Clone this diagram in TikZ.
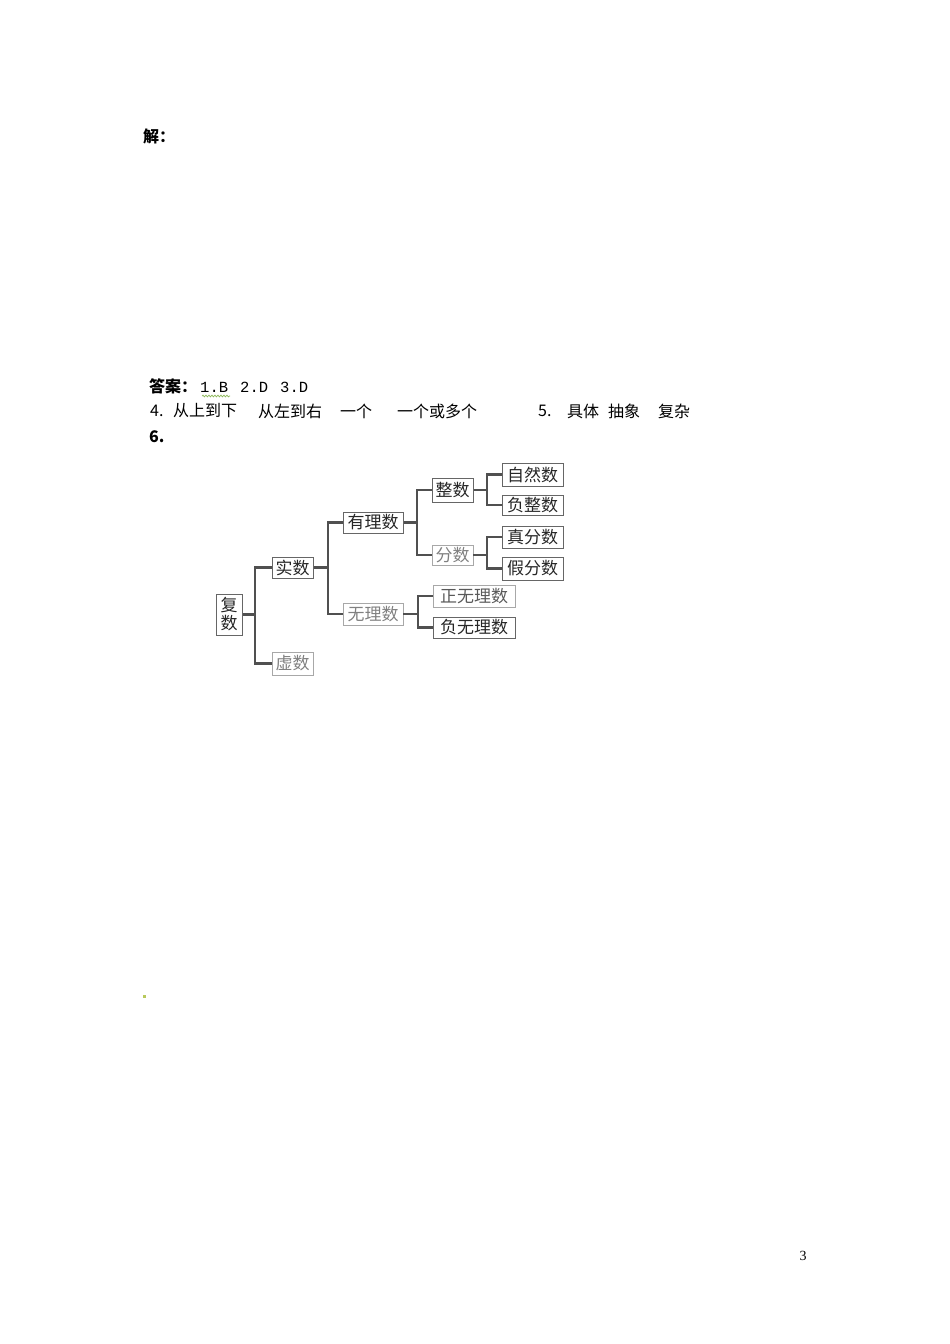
\documentclass[tikz,border=0pt]{standalone}
\usepackage{fontspec}
\setmainfont{Liberation Serif}
\newfontfamily\cjk{Noto Sans CJK SC}
\newfontfamily\monof{Liberation Mono}
\usetikzlibrary{decorations.pathmorphing}
\definecolor{dk}{HTML}{666666}
\definecolor{lt}{HTML}{A8A8A8}
\definecolor{ln}{HTML}{505050}
\definecolor{wavy}{HTML}{8DB85A}
\definecolor{dotc}{HTML}{B8C95C}
\begin{document}
\begin{tikzpicture}[x=1pt,y=-1pt,
  txt/.style={anchor=west,inner sep=0pt,font=\cjk\fontsize{16}{16}\selectfont},
  mtxt/.style={anchor=west,inner sep=0pt,font=\monof\fontsize{15.5}{15.5}\selectfont},
  btxt/.style={anchor=west,inner sep=0pt,font=\cjk\bfseries\fontsize{16}{16}\selectfont},
  boxd/.style={draw=dk,line width=1pt,inner sep=0pt,text=black!85,font=\cjk\fontsize{17}{17}\selectfont},
  boxl/.style={draw=lt,line width=0.9pt,inner sep=0pt,text=black!50,font=\cjk\fontsize{17}{17}\selectfont},
  conn/.style={draw=ln,line width=2.2pt}]
\path[use as bounding box] (0,0) rectangle (950,1344);

% header text
\node[btxt] (jie) at (143,136) {解：};
\node[btxt] (daan) at (149,386) {答案：};
\node[mtxt] (a1) at (200,387) {1.B};
\node[mtxt] (a2) at (240,387) {2.D};
\node[mtxt] (a3) at (280,387) {3.D};
\draw[wavy,line width=0.7pt,decorate,decoration={snake,amplitude=0.9pt,segment length=3pt}] (202,396) -- (230,396);
\node[txt] (n4) at (150,411) {4.};
\node[txt] (s1) at (173,411) {从上到下};
\node[txt] (s2) at (258,411) {从左到右};
\node[txt] (s3) at (340,411) {一个};
\node[txt] (s4) at (397,411) {一个或多个};
\node[txt] (n5) at (538,411) {5.};
\node[txt] (t1) at (567,411) {具体};
\node[txt] (t2) at (608,411) {抽象};
\node[txt] (t3) at (658,411) {复杂};
\node[btxt] (n6) at (149,437) {6.};

% tree
\node[boxd,minimum width=26pt,minimum height=41pt,align=center,font=\cjk\fontsize{17}{18}\selectfont] (fushu) at (229,614.5) {复\\数};
\node[boxd,minimum width=41pt,minimum height=21pt] (shishu) at (292.5,567.5) {实数};
\node[boxl,minimum width=41pt,minimum height=23pt] (xushu) at (292.5,663.5) {虚数};
\node[boxd,minimum width=60pt,minimum height=21pt] (youli) at (373,522.5) {有理数};
\node[boxl,minimum width=60pt,minimum height=22pt] (wuli) at (373,614) {无理数};
\node[boxd,minimum width=41pt,minimum height=24pt] (zheng) at (452.5,490) {整数};
\node[boxl,minimum width=41pt,minimum height=20pt] (fen) at (452.5,555) {分数};
\node[boxd,minimum width=61pt,minimum height=23pt] (ziran) at (532.5,474.5) {自然数};
\node[boxd,minimum width=61pt,minimum height=20pt] (fuzheng) at (532.5,505) {负整数};
\node[boxd,minimum width=61pt,minimum height=22pt] (zhenfen) at (532.5,537) {真分数};
\node[boxd,minimum width=61pt,minimum height=23pt] (jiafen) at (532.5,568.5) {假分数};
\node[boxl,minimum width=82pt,minimum height=22pt,text=black!65] (zhengwu) at (474,596) {正无理数};
\node[boxd,minimum width=82pt,minimum height=21pt] (fuwu) at (474,627.5) {负无理数};

\coordinate (j1) at (255,614.5);
\coordinate (j2) at (328,567.5);
\coordinate (j3) at (417,522.5);
\coordinate (j4) at (487,490);
\coordinate (j5) at (487,555);
\coordinate (j6) at (418,614);

\draw[conn] (fushu.east) -- (j1);
\draw[conn] (shishu.west) -| (j1) |- (xushu.west);
\draw[conn] (shishu.east) -- (j2);
\draw[conn] (youli.west) -| (j2) |- (wuli.west);
\draw[conn] (youli.east) -- (j3);
\draw[conn] (zheng.west) -| (j3) |- (fen.west);
\draw[conn] (zheng.east) -- (j4);
\draw[conn] (ziran.west) -| (j4) |- (fuzheng.west);
\draw[conn] (fen.east) -- (j5);
\draw[conn] (zhenfen.west) -| (j5) |- (jiafen.west);
\draw[conn] (wuli.east) -- (j6);
\draw[conn] (zhengwu.west) -| (j6) |- (fuwu.west);

% stray dot and page number
\fill[dotc] (142.5,994.5) rectangle (145.5,997.5);
\node[inner sep=0pt,font=\fontsize{14}{14}\selectfont] (pg) at (803,1256) {3};
\end{tikzpicture}
\end{document}
